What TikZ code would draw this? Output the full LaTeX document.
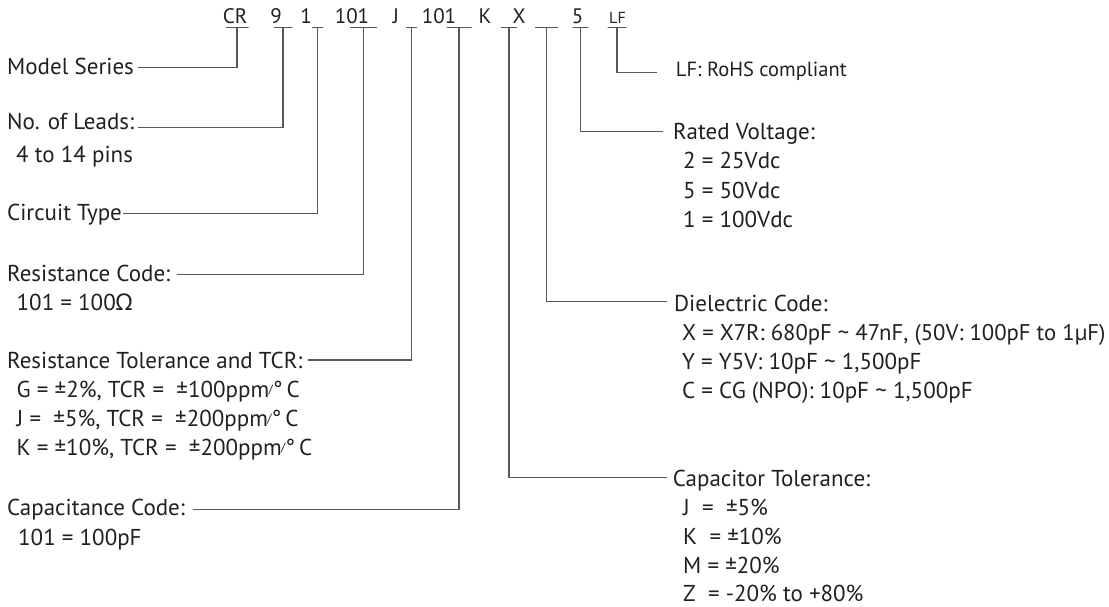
\documentclass[tikz,border=0pt]{standalone}
\usepackage{fontspec}
\setmainfont{PT Sans}
\newfontfamily\greekfont{Noto Sans}
\definecolor{txt}{HTML}{231F20}
\definecolor{ln}{HTML}{58595B}
\newcommand\ppmdeg{ppm\kern-0.5pt\raisebox{4pt}{\fontsize{12}{12}\selectfont /}°\,C}
\begin{document}
\begin{tikzpicture}[x=1pt,y=-1pt,
  lbl/.style={anchor=base west, inner sep=0pt, font=\fontsize{23}{27}\selectfont, text=txt},
  sml/.style={anchor=base west, inner sep=0pt, font=\fontsize{20.5}{24}\selectfont, text=txt},
  code/.style={anchor=base, inner sep=0pt, font=\fontsize{21}{24}\selectfont, text=txt},
  codesm/.style={anchor=base, inner sep=0pt, font=\fontsize{16}{18}\selectfont, text=txt},
  ul/.style={draw=ln, line width=1.1pt, shape=rectangle, inner sep=0pt, minimum height=0pt},
  conn/.style={draw=ln, line width=1.1pt}]
\useasboundingbox (0,0) rectangle (1109,607);

% code letters
\node[code] (cCR) at (235,23.3) {CR};
\node[code] (c9) at (276,23.3) {9};
\node[code] (c1) at (306,23.3) {1};
\node[code] (cR) at (352,23.3) {101};
\node[code] (cJ) at (396,23.3) {J};
\node[code] (cC) at (439,23.3) {101};
\node[code] (cK) at (485,23.3) {K};
\node[code] (cX) at (519,23.3) {X};
\node[code] (c5) at (577.5,23.3) {5};
\node[codesm] (cLF) at (617.5,23.3) {LF};

% underlines
\node[ul, minimum width=23] (uCR) at (237,27.7) {};
\node[ul, minimum width=19] (u9) at (283,27.7) {};
\node[ul, minimum width=11] (u1) at (317.5,27.7) {};
\node[ul, minimum width=27] (uR) at (363.5,27.7) {};
\node[ul, minimum width=11] (uJ) at (411.5,27.7) {};
\node[ul, minimum width=25] (uC) at (459,27.7) {};
\node[ul, minimum width=16] (uX) at (509,27.7) {};
\node[ul, minimum width=23] (uB) at (546.5,27.7) {};
\node[ul, minimum width=16] (u5) at (580.5,27.7) {};
\node[ul, minimum width=19] (uLF) at (617,27.7) {};

% left labels
\node[lbl] (ms) at (7,75) {Model Series};
\node[lbl] (nl) at (7,130) {No. of Leads:};
\node[lbl] (nl1) at (16,163) {4 to 14 pins};
\node[lbl] (ct) at (7,220) {Circuit Type};
\node[lbl] (rc) at (7,281) {Resistance Code:};
\node[lbl] (rc1) at (16.5,310) {101 = 100{\greekfont Ω}};
\node[lbl] (rt) at (7,368) {Resistance Tolerance and TCR:};
\node[lbl] (rt1) at (16.5,397) {G = ±2\%, TCR = \ ±100\ppmdeg};
\node[lbl] (rt2) at (16.5,426) {J = \ ±5\%, TCR = \ ±200\ppmdeg};
\node[lbl] (rt3) at (16.5,455.5) {K = ±10\%, TCR = \ ±200\ppmdeg};
\node[lbl] (cc) at (7,515) {Capacitance Code:};
\node[lbl] (cc1) at (18,545) {101 = 100pF};

% right labels
\node[sml] (lf) at (675.7,76.7) {LF: RoHS compliant};
\node[lbl] (rv) at (673,139.5) {Rated Voltage:};
\node[lbl] (rv1) at (683,169) {2 = 25Vdc};
\node[lbl] (rv2) at (683,198) {5 = 50Vdc};
\node[lbl] (rv3) at (683,227) {1 = 100Vdc};
\node[lbl] (dc) at (674,311) {Dielectric Code:};
\node[lbl, font=\fontsize{22.7}{27}\selectfont] (dc1) at (682,340) {X = X7R: 680pF \textasciitilde{} 47nF, (50V: 100pF to 1µF)};
\node[lbl] (dc2) at (682,369) {Y = Y5V: 10pF \textasciitilde{} 1,500pF};
\node[lbl] (dc3) at (682,398) {C = CG (NPO): 10pF \textasciitilde{} 1,500pF};
\node[lbl] (tl) at (672.7,486.5) {Capacitor Tolerance:};
\node[lbl] (tl1) at (683,515.5) {J \ = \ ±5\%};
\node[lbl] (tl2) at (683,544.5) {K \ = ±10\%};
\node[lbl] (tl3) at (683,573) {M = ±20\%};
\node[lbl] (tl4) at (683,601) {Z \ = -20\% to +80\%};

% connector ends
\coordinate (eMS) at (138,67.7);
\coordinate (eNL) at (137.7,127.7);
\coordinate (eCT) at (123,213.3);
\coordinate (eRC) at (176.7,274.3);
\coordinate (eRT) at (308,360);
\coordinate (eCC) at (193,509.3);
\coordinate (eLF) at (656.7,72.7);
\coordinate (eRV) at (663,131.7);
\coordinate (eDC) at (666.7,301.7);
\coordinate (eTL) at (666.7,477.3);

\draw[conn] (uCR.center) |- (eMS);
\draw[conn] (u9.center) |- (eNL);
\draw[conn] (u1.center) |- (eCT);
\draw[conn] (uR.center) |- (eRC);
\draw[conn] (uJ.center) |- (eRT);
\draw[conn] (uC.center) |- (eCC);
\draw[conn] (uX.center) |- (eTL);
\draw[conn] (uB.center) |- (eDC);
\draw[conn] (u5.center) |- (eRV);
\draw[conn] (uLF.center) |- (eLF);
\end{tikzpicture}
\end{document}
